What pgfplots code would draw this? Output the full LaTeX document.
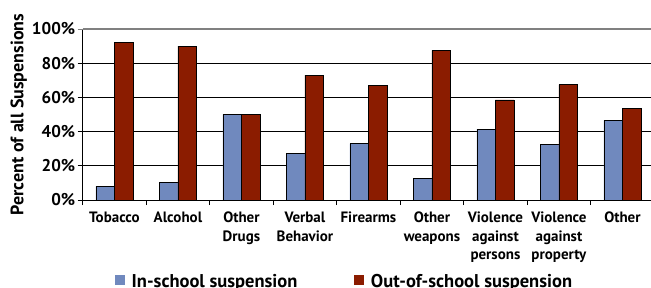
\documentclass[border=0pt]{standalone}
\usepackage{fontspec}
\setmainfont{PT Sans}
\usepackage{pgfplots}
\pgfplotsset{compat=1.18}
\definecolor{inblue}{RGB}{112,137,190}
\definecolor{outred}{RGB}{139,28,0}
\begin{document}
\begin{tikzpicture}
\begin{axis}[
  at={(82.7bp,88bp)}, anchor=south west,
  scale only axis, width=571.5bp, height=171bp,
  xmin=-0.5, xmax=8.5, ymin=0, ymax=100,
  axis lines*=left, axis line style={-, black, line width=0.8bp},
  ybar=0pt, bar width=18.5bp,
  xtick={0,...,8},
  xticklabels={Tobacco,Alcohol,{Other\\Drugs},{Verbal\\Behavior},Firearms,{Other\\weapons},{Violence\\against\\persons},{Violence\\against\\property},Other},
  minor xtick={-0.5,0.5,...,8.5},
  major x tick style={draw=none},
  minor tick length=5bp, major tick length=5bp,
  tick align=outside,
  tick style={black, line width=0.8bp},
  x tick label style={font=\fontsize{15bp}{18.5bp}\selectfont\bfseries, align=center, anchor=north, yshift=-3.5bp},
  ytick={0,20,40,60,80},
  yticklabels={0\%,20\%,40\%,60\%,80\%},
  extra y ticks={100}, extra y tick labels={100\%},
  extra y tick style={major grid style={gray, line width=1.2bp}, tick style={gray}},
  y tick label style={font=\fontsize{17bp}{19bp}\selectfont\bfseries, xshift=1bp},
  ymajorgrids, major grid style={black, line width=0.8bp},
  ylabel={\fontsize{18bp}{20bp}\selectfont\bfseries Percent of all Suspensions},
  ylabel style={at={(axis description cs:-0.112,0.5)}, anchor=center, rotate=0},
  legend columns=2,
  legend style={at={(axis description cs:0.0565,-0.478)}, anchor=west, draw=none, fill=none, inner sep=0pt,
    font=\fontsize{18.5bp}{20bp}\selectfont\bfseries, /tikz/every odd column/.append style={column sep=4.5bp},
    /tikz/every even column/.append style={column sep=55bp}},
  legend image code/.code={\fill[#1,draw=none] (0bp,-3.5bp) rectangle (10bp,6.5bp);},
  every axis plot/.append style={draw=black, line width=0.8bp},
]
\addplot[fill=inblue] coordinates {(0,8) (1,10) (2,50) (3,27) (4,33) (5,12.5) (6,41.5) (7,32.5) (8,46.5)};
\addplot[fill=outred] coordinates {(0,92) (1,90) (2,50) (3,73) (4,67) (5,87.5) (6,58.5) (7,67.5) (8,53.5)};
\legend{In-school suspension,Out-of-school suspension}
\end{axis}
\pgfresetboundingbox
\useasboundingbox (0,0) rectangle (651bp,288bp);
\end{tikzpicture}
\end{document}
